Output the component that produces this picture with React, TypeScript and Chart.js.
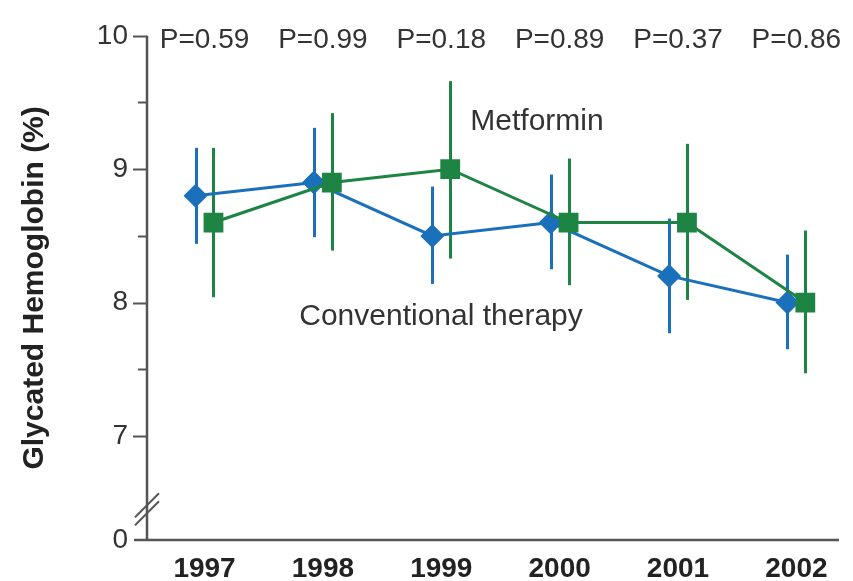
import React, { useEffect, useRef } from "react";
import { Chart, registerables } from "chart.js";

Chart.register(...registerables);

// Study years and the p-value printed above each year
const years = ["1997", "1998", "1999", "2000", "2001", "2002"];
const pValues = ["P=0.59", "P=0.99", "P=0.18", "P=0.89", "P=0.37", "P=0.86"];

// Conventional therapy: mean and interval ends (glycated hemoglobin, %)
const conventionalMean = [8.8, 8.9, 8.5, 8.6, 8.2, 8.0];
const conventionalLow = [8.44, 8.49, 8.14, 8.25, 7.77, 7.65];
const conventionalHigh = [9.16, 9.31, 8.87, 8.96, 8.63, 8.36];

// Metformin: mean and interval ends
const metforminMean = [8.6, 8.9, 9.0, 8.6, 8.6, 8.0];
const metforminLow = [8.04, 8.39, 8.33, 8.13, 8.02, 7.47];
const metforminHigh = [9.16, 9.42, 9.66, 9.08, 9.19, 8.54];

// Y axis: labelled ticks, unlabelled half ticks, and the broken-axis floor
const yMajorTicks = [7, 8, 9, 10];
const yMinorTicks = [7.5, 8.5, 9.5];
const yFloor = 6.22; // shown as "0" below the axis break
const yBreakAt = 6.45;

const BLUE = "#1b70bb";
const GREEN = "#1d8444";
const AXIS = "#555555";
const TEXT = "#333333";
const FONT = "'Liberation Sans', Arial, sans-serif";
const SHIFT = 0.0755; // horizontal offset of each group within a year

const conventionalPts = conventionalMean.map((y, i) => ({ x: i - SHIFT, y }));
const metforminPts = metforminMean.map((y, i) => ({ x: i + SHIFT, y }));

const decorations = {
  id: "decorations",
  beforeDatasetsDraw(chart: any) {
    const { ctx, scales } = chart;
    const xs = scales.x;
    const ys = scales.y;
    ctx.save();
    ctx.lineWidth = 3;
    ctx.lineCap = "butt";
    const bars = [
      { pts: conventionalPts, lo: conventionalLow, hi: conventionalHigh, c: BLUE },
      { pts: metforminPts, lo: metforminLow, hi: metforminHigh, c: GREEN },
    ];
    bars.forEach((b) => {
      ctx.strokeStyle = b.c;
      b.pts.forEach((p, i) => {
        const px = Math.round(xs.getPixelForValue(p.x)) + 0.5;
        ctx.beginPath();
        ctx.moveTo(px, ys.getPixelForValue(b.hi[i]));
        ctx.lineTo(px, ys.getPixelForValue(b.lo[i]));
        ctx.stroke();
      });
    });
    ctx.restore();
  },
  afterDraw(chart: any) {
    const { ctx, scales, chartArea } = chart;
    const xs = scales.x;
    const ys = scales.y;
    const left = chartArea.left;
    const bottom = chartArea.bottom;
    ctx.save();
    ctx.strokeStyle = AXIS;
    ctx.lineWidth = 2.5;
    // axis lines
    ctx.beginPath();
    ctx.moveTo(left, ys.getPixelForValue(10));
    ctx.lineTo(left, bottom);
    ctx.stroke();
    ctx.beginPath();
    ctx.moveTo(left - 13, bottom);
    ctx.lineTo(chartArea.right, bottom);
    ctx.stroke();
    // tick marks
    ctx.lineWidth = 2;
    yMajorTicks.forEach((v) => {
      const y = Math.round(ys.getPixelForValue(v)) + 0.5;
      ctx.beginPath();
      ctx.moveTo(left - 14, y);
      ctx.lineTo(left, y);
      ctx.stroke();
    });
    yMinorTicks.forEach((v) => {
      const y = Math.round(ys.getPixelForValue(v)) + 0.5;
      ctx.beginPath();
      ctx.moveTo(left - 9, y);
      ctx.lineTo(left, y);
      ctx.stroke();
    });
    // axis break marks
    const yb = ys.getPixelForValue(yBreakAt);
    ctx.lineWidth = 2;
    [-4, 4].forEach((d) => {
      ctx.beginPath();
      ctx.moveTo(left - 12, yb + 12 + d);
      ctx.lineTo(left + 12, yb - 12 + d);
      ctx.stroke();
    });
    // p-values
    ctx.fillStyle = TEXT;
    ctx.font = `28px ${FONT}`;
    ctx.textAlign = "center";
    ctx.textBaseline = "alphabetic";
    pValues.forEach((t, i) => {
      ctx.fillText(t, xs.getPixelForValue(i), 48);
    });
    // series names
    ctx.font = `30px ${FONT}`;
    ctx.fillText("Metformin", 537, 130);
    ctx.fillText("Conventional therapy", 441, 325);
    // y axis title
    ctx.font = `bold 30px ${FONT}`;
    ctx.fillStyle = "#222";
    ctx.translate(35, (chartArea.top + bottom) / 2);
    ctx.rotate(-Math.PI / 2);
    ctx.textBaseline = "middle";
    ctx.fillText("Glycated Hemoglobin (%)", 0, 0);
    ctx.restore();
  },
};

export default function App() {
  const ref = useRef<HTMLCanvasElement>(null);

  useEffect(() => {
    if (!ref.current) return;
    const chart = new Chart(ref.current, {
      type: "line",
      data: {
        datasets: [
          {
            label: "Conventional therapy",
            data: conventionalPts,
            borderColor: BLUE,
            backgroundColor: BLUE,
            borderWidth: 3,
            pointStyle: "rectRot",
            pointRadius: 12,
            pointBorderWidth: 0,
            pointHoverRadius: 12,
            order: 1,
          },
          {
            label: "Metformin",
            data: metforminPts,
            borderColor: GREEN,
            backgroundColor: GREEN,
            borderWidth: 3,
            pointStyle: "rect",
            pointRadius: 14,
            pointBorderWidth: 0,
            pointHoverRadius: 14,
            order: 0,
          },
        ],
      },
      options: {
        animation: false,
        responsive: false,
        maintainAspectRatio: false,
        layout: { padding: { top: 24, right: 8, left: 0, bottom: 0 } },
        plugins: {
          legend: { display: false },
          tooltip: { enabled: false },
        },
        scales: {
          x: {
            type: "linear",
            min: -0.486,
            max: 5.36,
            grid: { display: false, drawTicks: false },
            border: { display: false },
            afterBuildTicks: (s: any) => {
              s.ticks = years.map((_, i) => ({ value: i }));
            },
            afterFit: (s: any) => {
              s.height = 41;
            },
            ticks: {
              padding: 12,
              color: "#222",
              font: { family: FONT, size: 28, weight: "bold" },
              maxRotation: 0,
              autoSkip: false,
              callback: (v: any) => years[Math.round(Number(v))] ?? "",
            },
          },
          y: {
            type: "linear",
            min: yFloor,
            max: 10,
            grid: { display: false, drawTicks: false },
            border: { display: false },
            afterBuildTicks: (s: any) => {
              s.ticks = [yFloor, ...yMajorTicks].map((value) => ({ value }));
            },
            afterFit: (s: any) => {
              s.width = 147;
            },
            ticks: {
              padding: 19,
              color: TEXT,
              font: { family: FONT, size: 28 },
              autoSkip: false,
              callback: (v: any) => (Math.abs(Number(v) - yFloor) < 1e-6 ? "0" : String(v)),
            },
          },
        },
      },
      plugins: [decorations],
    });
    return () => chart.destroy();
  }, []);

  return (
    <div
      style={{
        position: "fixed",
        left: 0,
        top: 0,
        width: 853,
        height: 581,
        background: "#fff",
      }}
    >
      <canvas ref={ref} width={853} height={581} style={{ width: 853, height: 581 }} />
    </div>
  );
}
